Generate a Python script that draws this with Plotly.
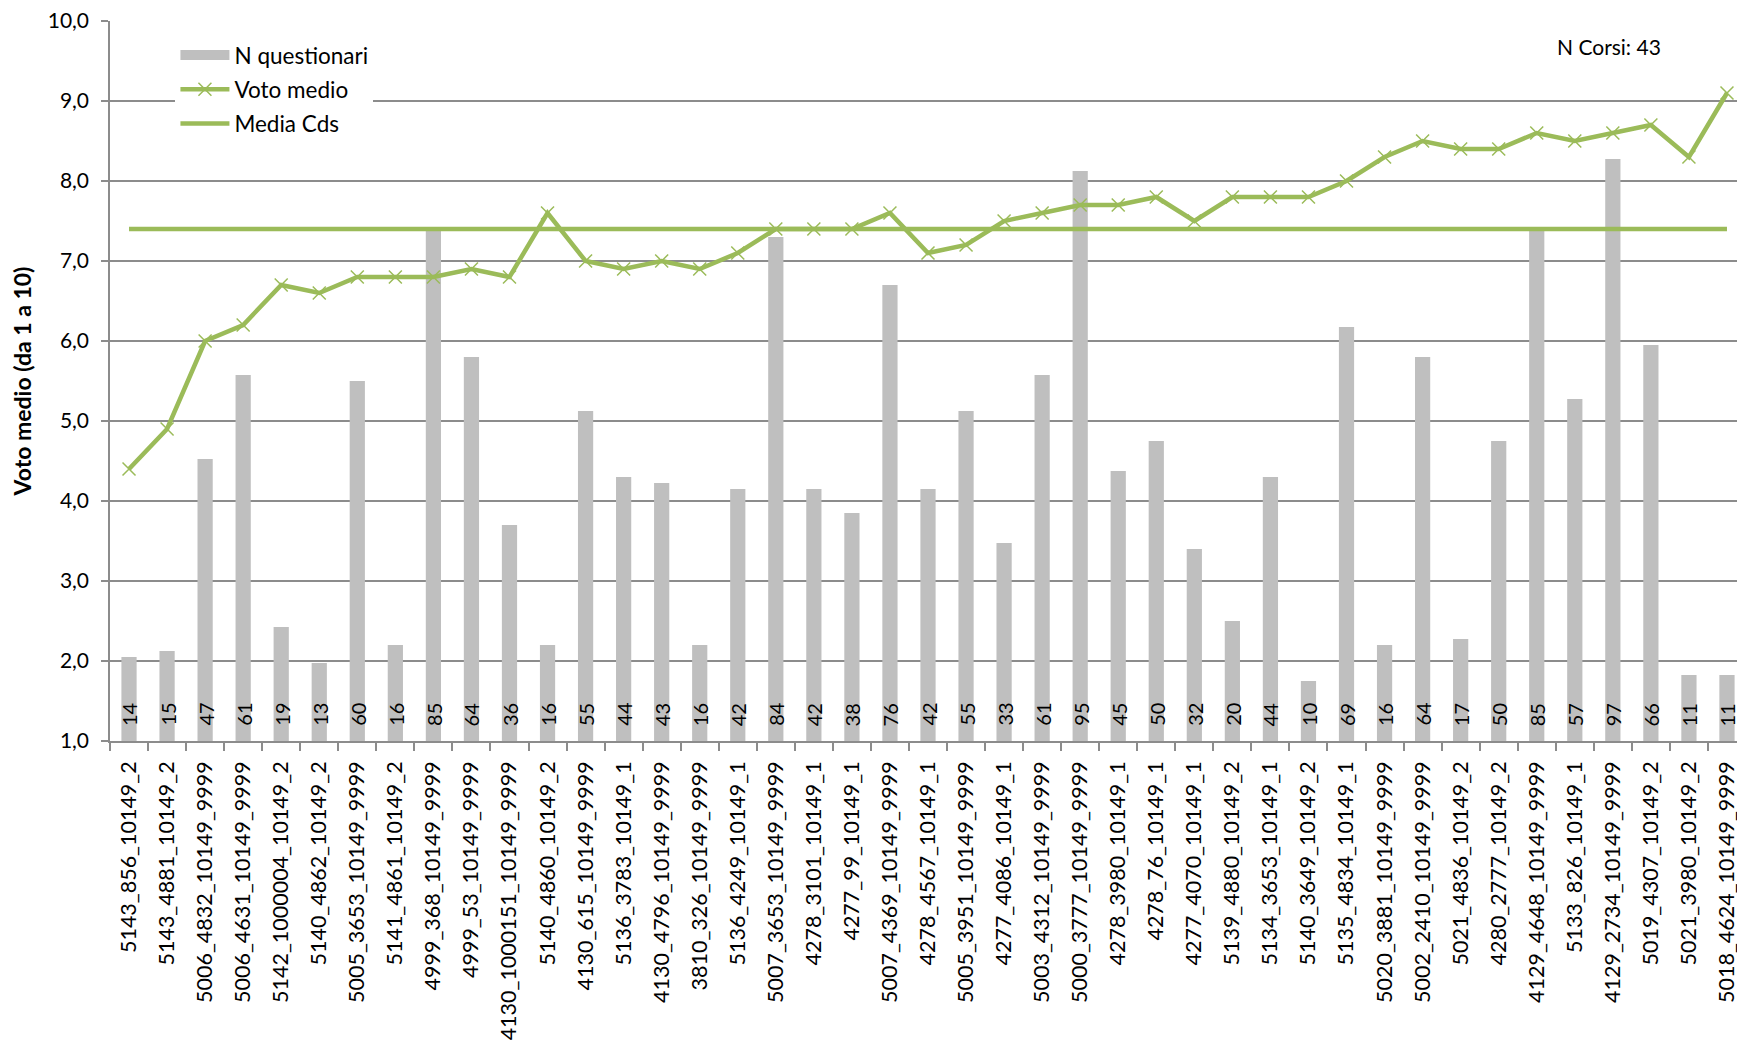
import plotly.graph_objects as go

categories = [
    "5143_856_10149_2", "5143_4881_10149_2", "5006_4832_10149_9999", "5006_4631_10149_9999",
    "5142_1000004_10149_2", "5140_4862_10149_2", "5005_3653_10149_9999", "5141_4861_10149_2",
    "4999_368_10149_9999", "4999_53_10149_9999", "4130_1000151_10149_9999", "5140_4860_10149_2",
    "4130_615_10149_9999", "5136_3783_10149_1", "4130_4796_10149_9999", "3810_326_10149_9999",
    "5136_4249_10149_1", "5007_3653_10149_9999", "4278_3101_10149_1", "4277_99_10149_1",
    "5007_4369_10149_9999", "4278_4567_10149_1", "5005_3951_10149_9999", "4277_4086_10149_1",
    "5003_4312_10149_9999", "5000_3777_10149_9999", "4278_3980_10149_1", "4278_76_10149_1",
    "4277_4070_10149_1", "5139_4880_10149_2", "5134_3653_10149_1", "5140_3649_10149_2",
    "5135_4834_10149_1", "5020_3881_10149_9999", "5002_2410_10149_9999", "5021_4836_10149_2",
    "4280_2777_10149_2", "4129_4648_10149_9999", "5133_826_10149_1", "4129_2734_10149_9999",
    "5019_4307_10149_2", "5021_3980_10149_2", "5018_4624_10149_9999",
]

n_questionari = [14, 15, 47, 61, 19, 13, 60, 16, 85, 64, 36, 16, 55, 44, 43, 16, 42, 84, 42, 38,
                 76, 42, 55, 33, 61, 95, 45, 50, 32, 20, 44, 10, 69, 16, 64, 17, 50, 85, 57, 97,
                 66, 11, 11]

voto_medio = [4.4, 4.9, 6.0, 6.2, 6.7, 6.6, 6.8, 6.8, 6.8, 6.9, 6.8, 7.6, 7.0, 6.9, 7.0, 6.9,
              7.1, 7.4, 7.4, 7.4, 7.6, 7.1, 7.2, 7.5, 7.6, 7.7, 7.7, 7.8, 7.5, 7.8, 7.8, 7.8,
              8.0, 8.3, 8.5, 8.4, 8.4, 8.6, 8.5, 8.6, 8.7, 8.3, 9.1]

media_cds_value = 7.4
media_cds = [media_cds_value] * len(categories)

y_axis_min = 1
y_axis_max = 10
n_axis_max = 120

GREEN = "#9BBB59"
GRAY_BAR = "#BFBFBF"
GRID = "#8C8C8C"
FONT = "Lato"

fig = go.Figure()

fig.add_trace(go.Bar(
    x=categories, y=n_questionari, name="N questionari",
    marker=dict(color=GRAY_BAR, line=dict(width=0)),
    width=0.4, yaxis="y", showlegend=False,
))

# legend entry for the bars (wide grey swatch as in the original)
fig.add_trace(go.Scatter(
    x=[None], y=[None], name="N questionari", mode="lines",
    line=dict(color=GRAY_BAR, width=13), yaxis="y2", legendgroup="a",
))

fig.add_trace(go.Scatter(
    x=categories, y=voto_medio, name="Voto medio", mode="lines+markers",
    line=dict(color=GREEN, width=4.5),
    marker=dict(symbol="x-thin", size=13, line=dict(color=GREEN, width=1.5)),
    yaxis="y2", legendgroup="b",
))

fig.add_trace(go.Scatter(
    x=categories, y=media_cds, name="Media Cds", mode="lines",
    line=dict(color=GREEN, width=4.5),
    yaxis="y2", legendgroup="c",
))

annotations = [
    dict(x=c, y=y_axis_min, xref="x", yref="y2", text=str(n), textangle=-90,
         showarrow=False, xanchor="center", yanchor="bottom", yshift=13,
         font=dict(family=FONT, size=20, color="black"))
    for c, n in zip(categories, n_questionari)
]
annotations.append(dict(
    text=f"N Corsi: {len(categories)}", xref="paper", yref="paper",
    x=0.916, y=0.964, showarrow=False, xanchor="center", yanchor="middle",
    font=dict(family=FONT, size=21, color="black"),
))

fig.update_layout(
    width=1745, height=1044,
    margin=dict(l=102, r=7, t=13, b=311, autoexpand=False),
    paper_bgcolor="white", plot_bgcolor="white",
    separators=",.",
    font=dict(family=FONT, size=21, color="black"),
    xaxis=dict(
        type="category", range=[-0.5, len(categories) - 0.5],
        tickangle=-90, tickson="boundaries", ticks="outside", ticklen=8,
        tickcolor=GRID, tickwidth=1.5, showline=True, linecolor=GRID, linewidth=1.5,
        showgrid=False, tickfont=dict(family=FONT, size=21.5, color="black"),
        ticklabelstandoff=10, ticklabeloverflow="allow", automargin=False,
    ),
    yaxis=dict(range=[0, n_axis_max], visible=False, showgrid=False, fixedrange=True,
               automargin=False),
    yaxis2=dict(
        overlaying="y", side="left", range=[y_axis_min, y_axis_max], dtick=1, tickformat=".1f",
        showgrid=True, gridcolor=GRID, gridwidth=1.5,
        showline=True, linecolor=GRID, linewidth=1.5,
        ticks="outside", ticklen=7, tickcolor=GRID, tickwidth=1.5,
        tickfont=dict(family=FONT, size=21, color="black"),
        ticklabelstandoff=8, ticklabeloverflow="allow", automargin=False,
        title=dict(text="<b>Voto medio (da 1 a 10)</b>",
                   font=dict(family=FONT, size=23, color="black"), standoff=17),
        zeroline=False,
    ),
    legend=dict(
        x=0.040, y=0.982, xanchor="left", yanchor="top",
        bgcolor="white", borderwidth=0,
        font=dict(family=FONT, size=22.5, color="black"),
        traceorder="grouped", tracegroupgap=2, itemwidth=49,
    ),
    annotations=annotations,
)

fig.write_html("out.html")
